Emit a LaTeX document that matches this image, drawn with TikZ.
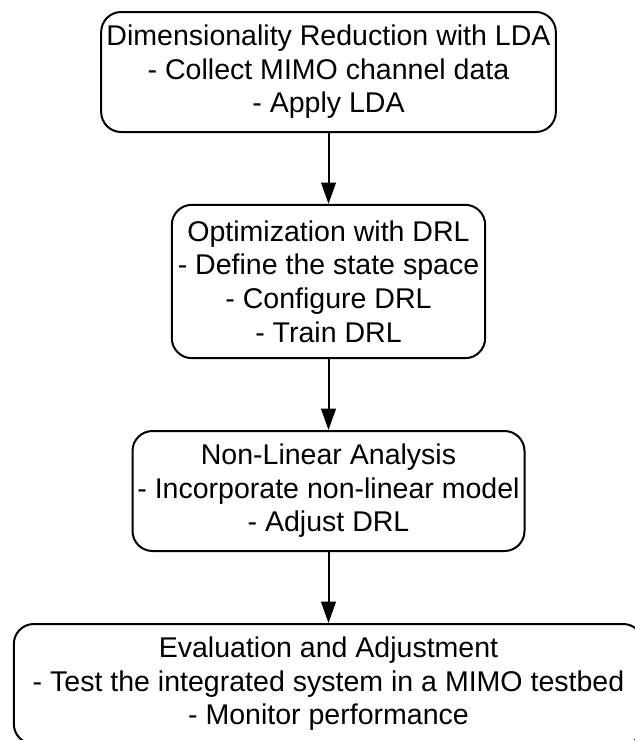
\documentclass[tikz,border=0pt]{standalone}
\usepackage{fontspec}
\setmainfont{Liberation Sans}
\usetikzlibrary{arrows.meta}

\tikzset{every picture/.style={line width=1.5pt}}
\tikzset{
	stage/.style={draw, rounded corners=15pt, align=center, inner sep=0pt,
		font=\fontsize{21.4}{25.2}\selectfont},
	flow/.style={-{Triangle[length=16pt,width=11pt]}}
}

\begin{document}
\begin{tikzpicture}[x=0.75pt,y=-0.75pt]
		\useasboundingbox (0,0) rectangle (635,740);
		\node[stage, minimum width=341pt, minimum height=90pt] (lda) at (328.5,72) {Dimensionality Reduction with LDA\\- Collect MIMO channel data\\- Apply LDA};
		\node[stage, minimum width=235pt, minimum height=115pt] (drl) at (328.5,281.5) {Optimization with DRL\\- Define the state space\\- Configure DRL\\- Train DRL};
		\node[stage, minimum width=294pt, minimum height=90pt] (nla) at (328.5,491) {Non-Linear Analysis\\- Incorporate non-linear model\\- Adjust DRL};
		\node[stage, minimum width=472pt, minimum height=90pt] (eval) at (328.5,684) {Evaluation and Adjustment\\- Test the integrated system in a MIMO testbed\\- Monitor performance};
		\draw[flow] (lda) -- (drl);
		\draw[flow] (drl) -- (nla);
		\draw[flow] (nla) -- (eval);
	\end{tikzpicture}
\end{document}
